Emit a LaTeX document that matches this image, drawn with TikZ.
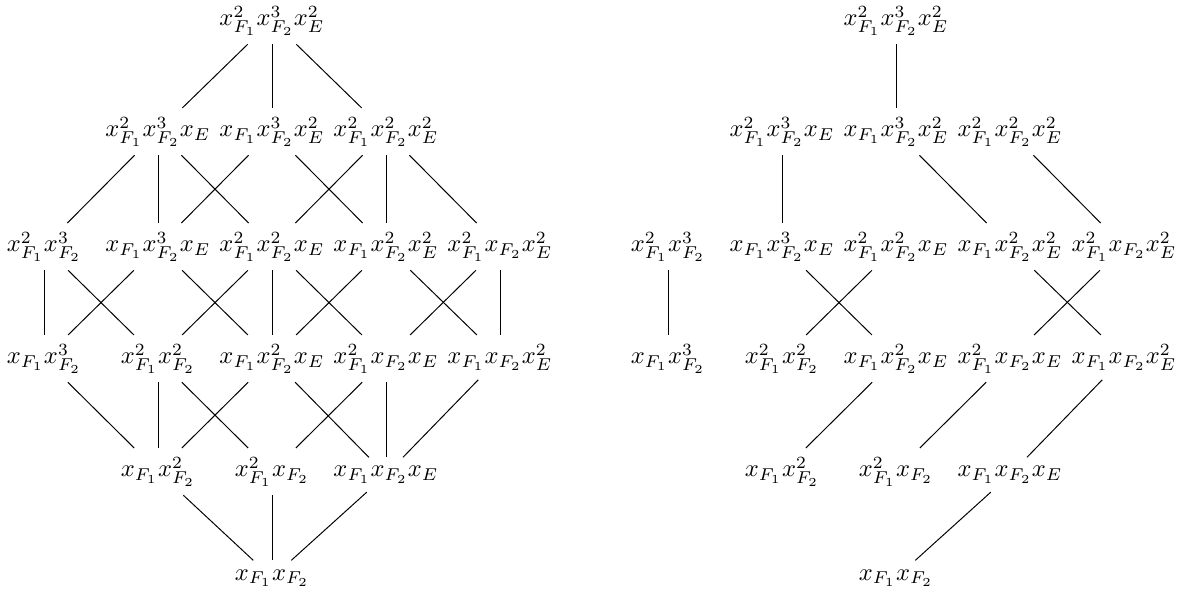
\documentclass[tikz,border=0pt]{standalone}
\usepackage{amsmath}
\usepackage{tikz}
\usetikzlibrary{positioning}

\tikzset{mono/.style={anchor=base, inner sep=3.5pt}}

\begin{document}
\begin{tikzpicture}[x=0.408pt, y=-0.408pt]
          \useasboundingbox (0,0) rectangle (1181,601);
          % left lattice
          \node[mono] (T) at (272,26) {$x^2_{F_1}x^3_{F_2}x^2_E$};
          \node[mono] (A1) at (158,137) {$x^2_{F_1}x^3_{F_2}x_E$};
          \node[mono] (A2) at (272,137) {$x_{F_1}x^3_{F_2}x^2_E$};
          \node[mono] (A3) at (386,137) {$x^2_{F_1}x^2_{F_2}x^2_E$};
          \node[mono] (B1) at (44,252) {$x^2_{F_1}x^3_{F_2}$};
          \node[mono] (B2) at (158,252) {$x_{F_1}x^3_{F_2}x_E$};
          \node[mono] (B3) at (272,252) {$x^2_{F_1}x^2_{F_2}x_E$};
          \node[mono] (B4) at (386,252) {$x_{F_1}x^2_{F_2}x^2_E$};
          \node[mono] (B5) at (500,252) {$x^2_{F_1}x_{F_2}x^2_E$};
          \node[mono] (C1) at (44,364) {$x_{F_1}x^3_{F_2}$};
          \node[mono] (C2) at (158,364) {$x^2_{F_1}x^2_{F_2}$};
          \node[mono] (C3) at (272,364) {$x_{F_1}x^2_{F_2}x_E$};
          \node[mono] (C4) at (386,364) {$x^2_{F_1}x_{F_2}x_E$};
          \node[mono] (C5) at (500,364) {$x_{F_1}x_{F_2}x^2_E$};
          \node[mono] (D1) at (158,477) {$x_{F_1}x^2_{F_2}$};
          \node[mono] (D2) at (272,477) {$x^2_{F_1}x_{F_2}$};
          \node[mono] (D3) at (386,477) {$x_{F_1}x_{F_2}x_E$};
          \node[mono] (E) at (272,580) {$x_{F_1}x_{F_2}$};

          \draw (T) -- (A1);
          \draw (T) -- (A2);
          \draw (T) -- (A3);
          \draw (A1) -- (B1);
          \draw (A1) -- (B2);
          \draw (A1) -- (B3);
          \draw (A2) -- (B2);
          \draw (A2) -- (B4);
          \draw (A3) -- (B3);
          \draw (A3) -- (B4);
          \draw (A3) -- (B5);
          \draw (B1) -- (C1);
          \draw (B1) -- (C2);
          \draw (B2) -- (C1);
          \draw (B2) -- (C3);
          \draw (B3) -- (C2);
          \draw (B3) -- (C3);
          \draw (B3) -- (C4);
          \draw (B4) -- (C3);
          \draw (B4) -- (C5);
          \draw (B5) -- (C4);
          \draw (B5) -- (C5);
          \draw (C1) -- (D1);
          \draw (C2) -- (D1);
          \draw (C2) -- (D2);
          \draw (C3) -- (D1);
          \draw (C3) -- (D3);
          \draw (C4) -- (D2);
          \draw (C4) -- (D3);
          \draw (C5) -- (D3);
          \draw (D1) -- (E);
          \draw (D2) -- (E);
          \draw (D3) -- (E);

          % right lattice
          \node[mono] (rT) at (896,26) {$x^2_{F_1}x^3_{F_2}x^2_E$};
          \node[mono] (rA1) at (782,137) {$x^2_{F_1}x^3_{F_2}x_E$};
          \node[mono] (rA2) at (896,137) {$x_{F_1}x^3_{F_2}x^2_E$};
          \node[mono] (rA3) at (1010,137) {$x^2_{F_1}x^2_{F_2}x^2_E$};
          \node[mono] (rB1) at (668,252) {$x^2_{F_1}x^3_{F_2}$};
          \node[mono] (rB2) at (782,252) {$x_{F_1}x^3_{F_2}x_E$};
          \node[mono] (rB3) at (896,252) {$x^2_{F_1}x^2_{F_2}x_E$};
          \node[mono] (rB4) at (1010,252) {$x_{F_1}x^2_{F_2}x^2_E$};
          \node[mono] (rB5) at (1124,252) {$x^2_{F_1}x_{F_2}x^2_E$};
          \node[mono] (rC1) at (668,364) {$x_{F_1}x^3_{F_2}$};
          \node[mono] (rC2) at (782,364) {$x^2_{F_1}x^2_{F_2}$};
          \node[mono] (rC3) at (896,364) {$x_{F_1}x^2_{F_2}x_E$};
          \node[mono] (rC4) at (1010,364) {$x^2_{F_1}x_{F_2}x_E$};
          \node[mono] (rC5) at (1124,364) {$x_{F_1}x_{F_2}x^2_E$};
          \node[mono] (rD1) at (782,477) {$x_{F_1}x^2_{F_2}$};
          \node[mono] (rD2) at (896,477) {$x^2_{F_1}x_{F_2}$};
          \node[mono] (rD3) at (1010,477) {$x_{F_1}x_{F_2}x_E$};
          \node[mono] (rE) at (896,580) {$x_{F_1}x_{F_2}$};

          \draw (rT) -- (rA2);
          \draw (rA1) -- (rB2);
          \draw (rA2) -- (rB4);
          \draw (rA3) -- (rB5);
          \draw (rB1) -- (rC1);
          \draw (rB2) -- (rC3);
          \draw (rB3) -- (rC2);
          \draw (rB4) -- (rC5);
          \draw (rB5) -- (rC4);
          \draw (rC3) -- (rD1);
          \draw (rC4) -- (rD2);
          \draw (rC5) -- (rD3);
          \draw (rD3) -- (rE);
        \end{tikzpicture}
\end{document}
